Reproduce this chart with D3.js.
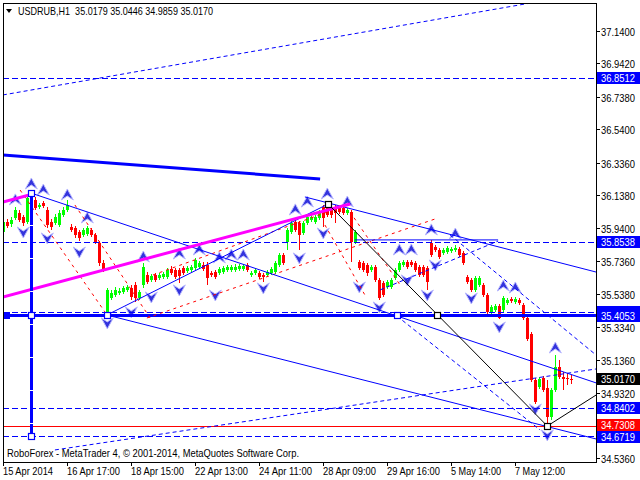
<!DOCTYPE html>
<html><head><meta charset="utf-8">
<script src="https://cdn.jsdelivr.net/npm/d3@7"></script>
<style>body{margin:0;background:#fff}svg{display:block}</style>
</head><body>
<svg id="c" width="640" height="480"></svg>
<script>
// ---------------- DATA ----------------
const symbolTitle = "USDRUB,H1";
const lastQuote = [35.0179, 35.0446, 34.9859, 35.0170];
const copyright = "RoboForex - MetaTrader 4, \u00A9 2001-2014, MetaQuotes Software Corp.";

const opens = [35.914,35.975,35.963,36.000,36.030,36.006,35.975,36.122,36.110,36.067,36.091,36.049,35.975,35.969,35.957,36.018,36.049,35.945,35.939,35.914,
35.896,35.902,35.927,35.896,35.847,35.725,35.420,35.512,35.530,35.542,35.548,35.561,35.573,35.591,35.512,35.591,35.652,35.622,35.652,35.634,
35.640,35.640,35.689,35.683,35.683,35.695,35.676,35.683,35.695,35.701,35.713,35.713,35.664,35.670,35.664,35.670,35.683,35.683,35.683,35.689,
35.689,35.713,35.652,35.664,35.664,35.652,35.652,35.664,35.670,35.713,35.774,35.853,35.914,35.975,35.969,35.908,35.969,35.988,35.975,36.000,
36.067,36.079,36.049,36.067,36.061,36.061,36.030,36.036,35.853,35.731,35.725,35.713,35.683,35.701,35.622,35.603,35.579,35.579,35.634,35.683,
35.713,35.731,35.731,35.725,35.701,35.701,35.695,35.847,35.823,35.805,35.786,35.792,35.798,35.805,35.811,35.786,35.640,35.622,35.561,35.591,
35.591,35.530,35.427,35.439,35.463,35.439,35.481,35.506,35.488,35.500,35.469,35.390,35.292,35.012,34.969,35.024,34.963,34.786,34.951,35.091,
35.030,35.024,35.0179];
const highs = [36.000,35.994,36.006,36.067,36.049,36.018,36.146,36.152,36.128,36.091,36.104,36.067,35.994,36.024,36.049,36.067,36.110,35.963,35.951,35.927,
35.939,35.951,35.939,35.908,35.859,35.744,35.573,35.561,35.579,35.573,35.585,35.591,35.591,35.609,35.561,35.725,35.670,35.658,35.664,35.664,
35.670,35.695,35.707,35.695,35.695,35.707,35.707,35.713,35.756,35.737,35.731,35.731,35.676,35.683,35.701,35.707,35.713,35.713,35.719,35.719,
35.719,35.725,35.676,35.695,35.676,35.664,35.683,35.701,35.737,35.786,35.786,35.939,35.988,35.988,35.981,35.981,36.018,36.018,36.018,36.049,
36.079,36.085,36.061,36.079,36.073,36.073,36.061,36.049,35.927,35.744,35.737,35.725,35.713,35.713,35.634,35.615,35.622,35.634,35.695,35.737,
35.744,35.744,35.744,35.737,35.713,35.713,35.707,35.866,35.835,35.817,35.817,35.829,35.823,35.835,35.823,35.798,35.652,35.634,35.646,35.646,
35.603,35.542,35.469,35.475,35.475,35.524,35.512,35.518,35.518,35.512,35.481,35.402,35.304,35.024,35.030,35.036,35.012,34.963,35.164,35.134,
35.061,35.055,35.0446];
const lows = [35.902,35.939,35.945,35.988,35.975,35.951,35.963,36.073,36.049,36.055,36.061,35.939,35.927,35.957,35.945,36.006,36.036,35.914,35.878,35.859,
35.884,35.890,35.884,35.841,35.707,35.670,35.408,35.500,35.518,35.530,35.536,35.548,35.500,35.488,35.500,35.573,35.597,35.609,35.609,35.622,
35.628,35.628,35.652,35.628,35.603,35.652,35.664,35.670,35.683,35.689,35.676,35.591,35.640,35.628,35.652,35.658,35.670,35.670,35.670,35.676,
35.676,35.670,35.640,35.652,35.628,35.609,35.640,35.652,35.658,35.701,35.713,35.805,35.902,35.914,35.805,35.896,35.957,35.975,35.963,35.988,
35.945,36.006,36.000,35.969,36.024,36.018,36.018,35.731,35.841,35.683,35.670,35.646,35.670,35.609,35.500,35.518,35.567,35.567,35.622,35.670,
35.701,35.689,35.701,35.670,35.640,35.640,35.561,35.762,35.792,35.750,35.774,35.780,35.786,35.792,35.762,35.713,35.597,35.548,35.548,35.579,
35.518,35.414,35.414,35.427,35.384,35.427,35.469,35.481,35.475,35.469,35.378,35.250,35.000,34.866,34.957,34.939,34.731,34.768,34.939,35.018,
34.951,34.981,34.9859];
const closes = [35.975,35.951,35.988,36.049,35.988,35.969,36.122,36.091,36.061,36.079,36.073,35.957,35.945,36.006,36.030,36.049,36.079,35.927,35.896,35.878,
35.927,35.939,35.896,35.853,35.725,35.689,35.561,35.542,35.561,35.555,35.573,35.579,35.518,35.512,35.548,35.701,35.609,35.646,35.622,35.652,
35.658,35.683,35.664,35.640,35.646,35.664,35.695,35.701,35.744,35.725,35.689,35.634,35.652,35.640,35.689,35.695,35.701,35.701,35.701,35.707,
35.707,35.683,35.664,35.683,35.640,35.640,35.670,35.689,35.725,35.774,35.725,35.927,35.969,35.927,35.896,35.969,36.006,36.006,36.006,36.030,
36.000,36.018,36.018,36.030,36.036,36.030,36.049,35.853,35.914,35.695,35.683,35.664,35.701,35.622,35.512,35.530,35.609,35.622,35.683,35.725,
35.731,35.701,35.713,35.683,35.652,35.652,35.609,35.774,35.805,35.762,35.805,35.817,35.811,35.817,35.774,35.725,35.609,35.561,35.634,35.634,
35.530,35.427,35.457,35.463,35.390,35.512,35.500,35.494,35.506,35.481,35.390,35.262,35.012,34.878,35.018,34.951,34.786,34.951,35.091,35.030,
35.018,35.018,35.0170];

const timeLabels = ["15 Apr 2014","16 Apr 17:00","18 Apr 15:00","22 Apr 13:00","24 Apr 11:00","28 Apr 09:00","29 Apr 16:00","5 May 14:00","7 May 12:00"];
const timeLabelBars = [0,16,32,48,64,80,96,112,128];
const priceTicks = [37.14,36.942,36.738,36.54,36.336,36.138,35.94,35.736,35.538,35.334,35.136,34.932,34.536];

const dashedLevels = [36.8512, 35.8538, 35.4281, 34.8402, 34.6719];
const hiddenLevel = 35.4281;
const thickLevel = 35.4053;
const redLevel = 34.7308;
const lastPrice = 35.0170;

// fractals: [bar, price]
const upFractals = [[3,36.110],[7,36.207],[10,36.170],[16,36.140],[21,36.000],[35,35.762],[44,35.780],[49,35.805],[54,35.756],[57,35.774],[60,35.774],
[73,36.049],[76,36.097],[81,36.146],[86,36.097],[99,35.805],[102,35.805],[107,35.927],[113,35.902],[125,35.585],[128,35.573],[138,35.207]];
const downFractals = [[5,35.914],[11,35.878],[19,35.792],[26,35.360],[32,35.427],[37,35.518],[44,35.561],[53,35.530],[65,35.573],[74,35.756],[80,35.908],
[89,35.579],[94,35.457],[101,35.622],[106,35.530],[108,35.713],[117,35.512],[124,35.335],[133,34.835],[136,34.677]];

// trend lines: [bar1, price1, bar2, price2]
const thickBlueLines = [[-0.1,36.384,79.2,36.238]];
const magentaLines = [[-0.1,35.518,86.7,36.085],[-0.1,36.097,7.4,36.146]];
const blueLines = [[6.9,36.152,148.2,34.994],[25.9,35.408,148.2,34.652],[25.9,35.408,81.2,36.085],[75.4,36.128,148.2,35.670],[87.9,35.866,123.7,35.866]];
const blueDashLines = [[-0.1,36.750,131.9,37.311],[12.9,34.585,148.2,35.079],[94.2,35.561,123.7,35.859],[98.4,35.402,134.2,34.707],[111.7,35.896,148.2,35.164]];
const redDashLines = [[4.2,36.170,25.4,35.427],[17.9,36.079,36.7,35.390],[35.9,35.390,108.7,36.000],[37.4,35.652,85.9,36.079],[80.4,35.957,90.4,35.530],[86.7,36.036,99.2,35.591]];
const blackLines = [[81.2,36.085,136,34.731],[136,34.731,148.2,34.920]];
const verticalLine = [7, 36.152, 34.6719];
const blueSquares = [[7,36.152],[7,35.4053],[7,34.6719],[26,35.4053],[98.4,35.4053]];
const blackSquares = [[81.2,36.085],[108.4,35.4053],[136,34.731]];

// ---------------- DRAW ----------------
const svg = d3.select("#c");
const FONT = "'Liberation Sans', Arial, sans-serif";
const P = {l:3, r:596, t:3, b:462};
const x = d3.scaleLinear().domain([0,142]).range([3.3,571.3]);
const y = d3.scaleLinear().domain([34.536,37.14]).range([458,31]);
const BLUE="#0000ff", RED="#ff0000", GREEN="#00ff00", MAG="#ff00ff";

svg.append("rect").attr("width",640).attr("height",480).attr("fill","#fff");
svg.append("clipPath").attr("id","clip").append("rect")
  .attr("x",P.l).attr("y",P.t).attr("width",P.r-P.l).attr("height",P.b-P.t);
const g = svg.append("g").attr("clip-path","url(#clip)");

// candles
const cg = g.append("g").attr("shape-rendering","crispEdges");
closes.forEach((c,i)=>{
  const o=opens[i], col = c>=o ? GREEN : RED;
  const xs = Math.round(x(i));
  cg.append("line").attr("x1",xs+0.5).attr("x2",xs+0.5)
    .attr("y1",y(highs[i])).attr("y2",y(lows[i])).attr("stroke",col);
  const top=Math.round(y(Math.max(o,c))), bot=Math.round(y(Math.min(o,c)));
  cg.append("rect").attr("x",xs-1).attr("width",3)
    .attr("y",top).attr("height",Math.max(1,bot-top)).attr("fill",col);
});

// fractals
function arrow(cx,cy,up){
  const s = up?1:-1;
  return `M${cx},${cy-6*s} L${cx+6},${cy+5*s} L${cx},${cy+1*s} L${cx-6},${cy+5*s} Z`;
}
upFractals.forEach(([b,p])=>g.append("path").attr("d",arrow(x(b),y(p),true))
  .attr("fill","#3333dd").attr("stroke","#b8b8ff").attr("stroke-width",1));
downFractals.forEach(([b,p])=>g.append("path").attr("d",arrow(x(b),y(p),false))
  .attr("fill","#3333dd").attr("stroke","#b8b8ff").attr("stroke-width",1));

// horizontal levels
dashedLevels.forEach(p=>g.append("line").attr("x1",P.l).attr("x2",P.r)
  .attr("y1",Math.round(y(p))+0.5).attr("y2",Math.round(y(p))+0.5)
  .attr("stroke",BLUE).attr("stroke-dasharray","6,3"));
g.append("line").attr("x1",P.l).attr("x2",P.r)
  .attr("y1",Math.round(y(redLevel))+0.5).attr("y2",Math.round(y(redLevel))+0.5).attr("stroke",RED);
g.append("line").attr("x1",P.l).attr("x2",P.r)
  .attr("y1",Math.round(y(thickLevel))+0.5).attr("y2",Math.round(y(thickLevel))+0.5)
  .attr("stroke",BLUE).attr("stroke-width",3);
g.append("rect").attr("x",P.l).attr("y",Math.round(y(thickLevel))-3).attr("width",7).attr("height",7).attr("fill",BLUE);

function drawLines(arr,color,w,dash){
  arr.forEach(([b1,p1,b2,p2])=>{
    const l=g.append("line").attr("x1",x(b1)).attr("y1",y(p1)).attr("x2",x(b2)).attr("y2",y(p2))
      .attr("stroke",color).attr("stroke-width",w);
    if(dash) l.attr("stroke-dasharray",dash);
  });
}
drawLines(redDashLines,RED,1,"3,4");
drawLines(blueDashLines,BLUE,1,"4,3");
drawLines(blueLines,BLUE,1);
drawLines(thickBlueLines,BLUE,3);
drawLines(magentaLines,MAG,3);
drawLines(blackLines,"#000",1);

// vertical line
g.append("line").attr("x1",Math.round(x(verticalLine[0]))+0.5).attr("x2",Math.round(x(verticalLine[0]))+0.5)
  .attr("y1",y(verticalLine[1])).attr("y2",y(verticalLine[2]))
  .attr("stroke",BLUE).attr("stroke-width",3).attr("stroke-dasharray","32,1");

function sq(arr,color){
  arr.forEach(([b,p])=>g.append("rect").attr("x",Math.round(x(b))-2.5).attr("y",Math.round(y(p))-2.5)
    .attr("width",6).attr("height",6).attr("fill","#fff").attr("stroke",color).attr("stroke-width",1.2));
}
sq(blueSquares,BLUE);
sq(blackSquares,"#000");

// frame
svg.append("path").attr("d",`M${P.l+0.5},${P.t+0.5} H${P.r+0.5} V${P.b+0.5} H${P.l+0.5} Z`)
  .attr("fill","none").attr("stroke","#000").attr("shape-rendering","crispEdges");

// price axis
priceTicks.forEach(p=>{
  const yy=Math.round(y(p))+0.5;
  svg.append("line").attr("x1",P.r).attr("x2",P.r+4).attr("y1",yy).attr("y2",yy).attr("stroke","#000");
  svg.append("text").attr("x",601).attr("y",yy+4).attr("font-family",FONT).attr("font-size",10.5)
    .attr("textLength",34).attr("lengthAdjust","spacingAndGlyphs").text(p.toFixed(4));
});
function box(p,bg,fg,dy,withText){
  const yy=Math.round(y(p))+(dy||0);
  svg.append("rect").attr("x",597).attr("y",yy-6).attr("width",43).attr("height",12).attr("fill",bg);
  if(withText!==false)
    svg.append("text").attr("x",601).attr("y",yy+4).attr("font-family",FONT).attr("font-size",10)
      .attr("fill",fg).attr("textLength",34).attr("lengthAdjust","spacingAndGlyphs").text(p.toFixed(4));
}
box(hiddenLevel,BLUE,"#fff",0,false);
[36.8512, 35.8538, 34.8402].forEach(p=>box(p,BLUE,"#fff"));
box(thickLevel,BLUE,"#fff",1);
box(lastPrice,"#000","#fff");
box(redLevel,RED,"#fff",-1);
box(34.6719,BLUE,"#fff",1);

// time axis
timeLabels.forEach((t,k)=>{
  const xx=Math.round(x(timeLabelBars[k]))+0.5;
  svg.append("line").attr("x1",xx).attr("x2",xx).attr("y1",P.b).attr("y2",P.b+4).attr("stroke","#000");
  svg.append("text").attr("x",xx-0.5).attr("y",475).attr("font-family",FONT).attr("font-size",10.5)
    .attr("textLength", t.length===11 ? 50 : 53).attr("lengthAdjust","spacingAndGlyphs").text(t);
});

// title
svg.append("path").attr("d","M6,9 L12,9 L9,13 Z").attr("fill","#000");
svg.append("text").attr("x",18).attr("y",15).attr("font-family",FONT).attr("font-size",11)
  .attr("xml:space","preserve").attr("textLength",195).attr("lengthAdjust","spacingAndGlyphs")
  .text(symbolTitle+"  "+lastQuote.map(v=>v.toFixed(4)).join(" "));
svg.append("text").attr("x",7).attr("y",457).attr("font-family",FONT).attr("font-size",11)
  .attr("textLength",292).attr("lengthAdjust","spacingAndGlyphs").text(copyright);
</script>
</body></html>
